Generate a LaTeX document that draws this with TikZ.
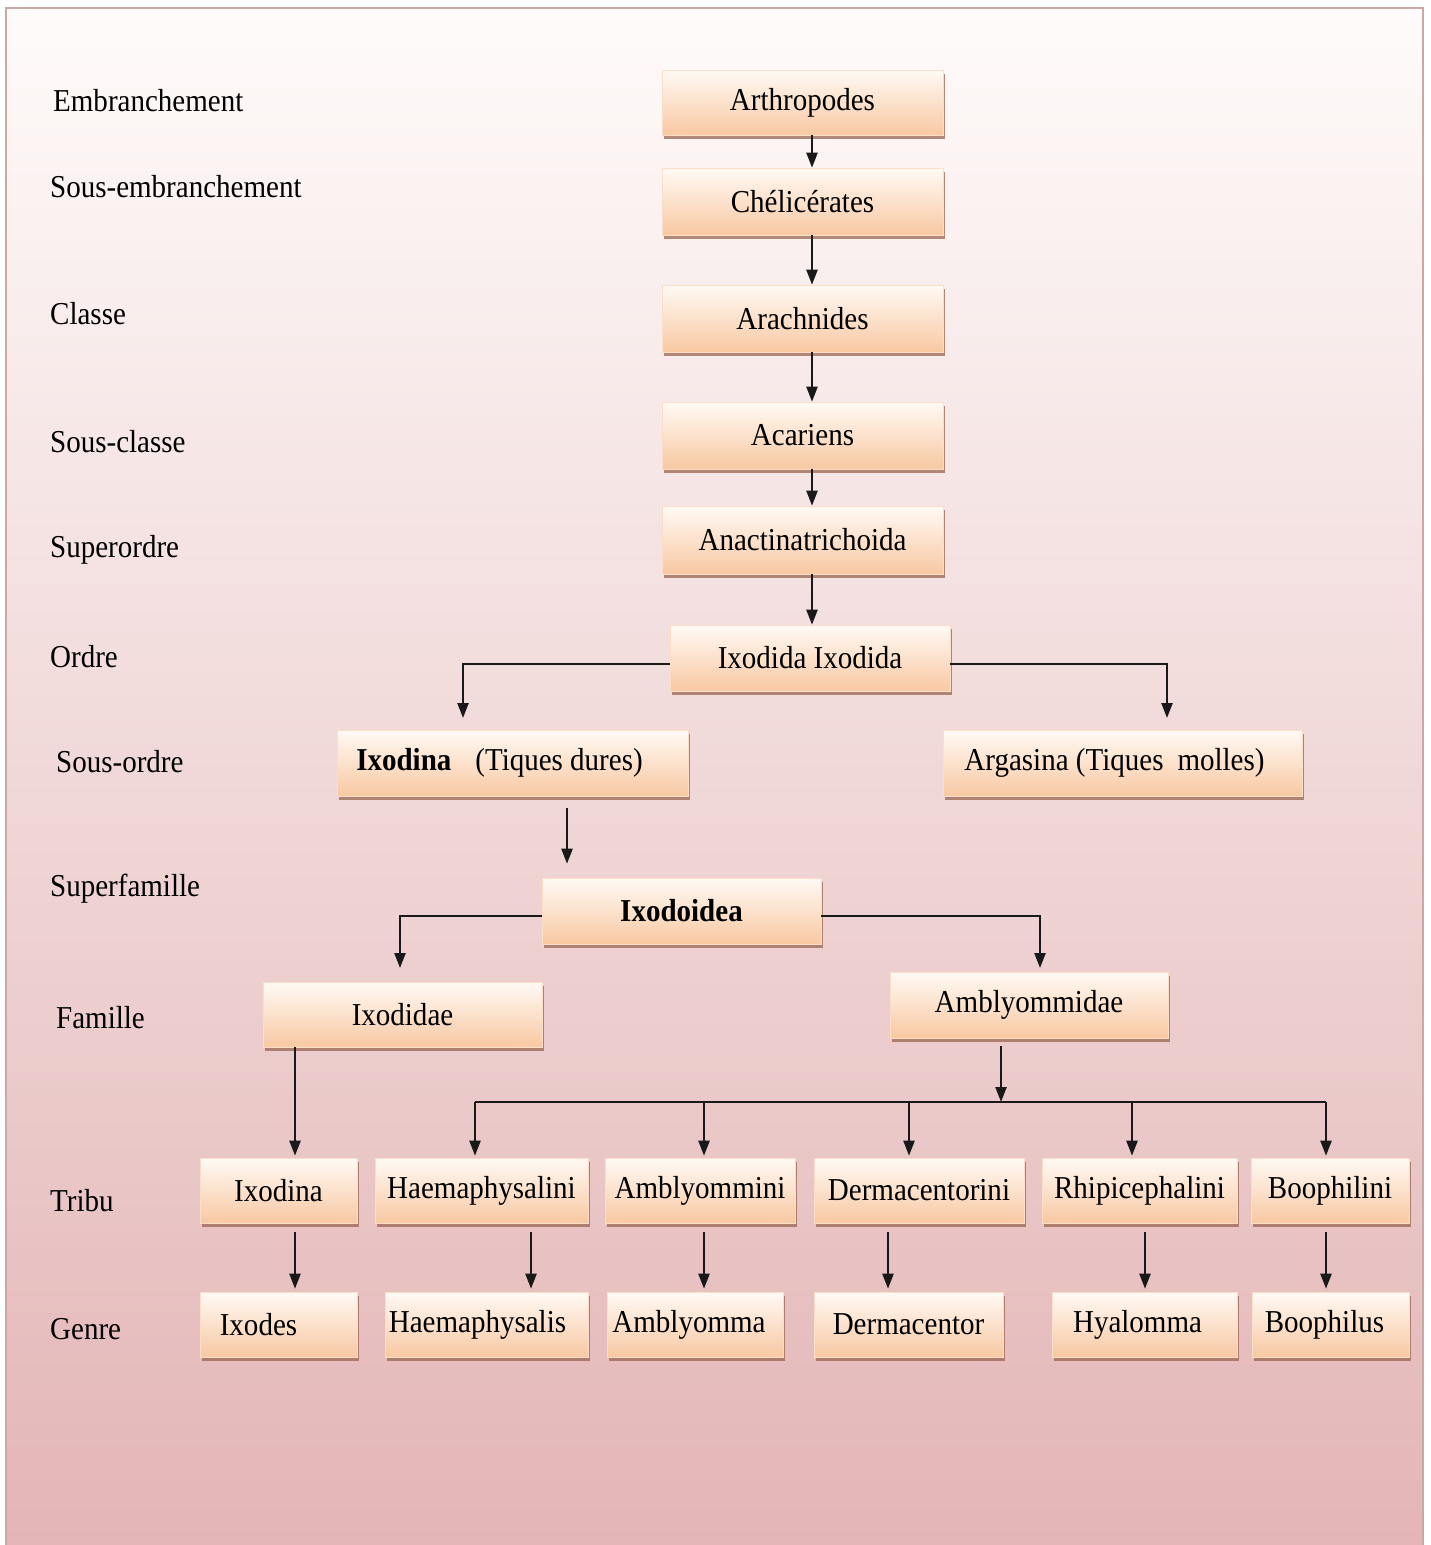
\documentclass[tikz,border=0pt]{standalone}
\usepackage{fontspec}
\setmainfont{Liberation Serif}[FakeStretch=0.91]
\usetikzlibrary{arrows.meta,shadows,calc}
\definecolor{bgtop}{HTML}{FEFBFA}
\definecolor{bgbot}{HTML}{E3B4B5}
\definecolor{frm}{HTML}{C9A9A6}
\definecolor{boxtop}{HTML}{FFFAF5}
\definecolor{boxbot}{HTML}{F8C8A2}
\definecolor{shd}{HTML}{9A6650}
\newcommand\mybox[6]{\node[box, minimum width=#4bp, minimum height=#5bp] (#1) at (#2,#3) {#6};}
\begin{document}
\begin{tikzpicture}[x=1bp,y=-1bp,
  font=\fontsize{32}{38}\selectfont,
  box/.style={rectangle, inner sep=0pt, top color=boxtop, bottom color=boxbot, draw=boxbot!60!white, line width=0.6bp,
    drop shadow={shadow xshift=2bp, shadow yshift=-4bp, fill=shd, opacity=0.75}},
  lab/.style={anchor=west, inner sep=0pt},
  arr/.style={-{Triangle[length=15bp,width=11bp]}, line width=2.3bp, draw=black!90},
  ln/.style={line width=2.3bp, draw=black!90}
]
\useasboundingbox (0,0) rectangle (1431,1545);
\fill[white] (0,0) rectangle (1431,1545);
\shade[top color=bgtop, bottom color=bgbot, draw=frm, line width=2bp] (6,8) rectangle (1423,1565);

% level labels
\node[lab] (l1) at (53,101) {Embranchement};
\node[lab] (l2) at (50,187) {Sous-embranchement};
\node[lab] (l3) at (50,314) {Classe};
\node[lab] (l4) at (50,442) {Sous-classe};
\node[lab] (l5) at (50,550) {Superordre};
\node[lab] (l6) at (50,657) {Ordre};
\node[lab] (l7) at (56,762) {Sous-ordre};
\node[lab] (l8) at (50,889) {Superfamille};
\node[lab] (l9) at (56,1018) {Famille};
\node[lab] (l10) at (50,1201) {Tribu};
\node[lab] (l11) at (50,1329) {Genre};

% boxes
\mybox{arth}{802.5}{102.5}{281}{65}{Arthropodes}
\mybox{chel}{802.5}{201.5}{281}{67}{Chélicérates}
\mybox{arach}{802.5}{318.5}{281}{67}{Arachnides}
\mybox{acar}{802.5}{435.5}{281}{67}{Acariens}
\mybox{anact}{802.5}{540}{281}{68}{Anactinatrichoida}
\mybox{ixodida}{810}{658}{280}{66}{Ixodida Ixodida}
\mybox{ixodina}{512.5}{763}{351}{66}{\hspace*{-26bp}\textbf{Ixodina}\hspace{24bp}(Tiques dures)}
\mybox{argasina}{1122.5}{763}{359}{66}{\hspace*{-16bp}Argasina (Tiques\hspace{14bp}molles)}
\mybox{ixodoidea}{681.5}{911}{279}{66}{\textbf{Ixodoidea}}
\mybox{ixodidae}{402.5}{1014.5}{279}{65}{Ixodidae}
\mybox{amblyommidae}{1029}{1005}{278}{66}{Amblyommidae}

\mybox{trIx}{278.5}{1190.5}{157}{65}{Ixodina}
\mybox{trHa}{481.5}{1190.5}{213}{65}{Haemaphysalini}
\mybox{trAm}{700}{1190.5}{190}{65}{Amblyommini}
\mybox{trDe}{919}{1190.5}{210}{65}{Dermacentorini}
\mybox{trRh}{1139.5}{1190.5}{195}{65}{Rhipicephalini}
\mybox{trBo}{1330}{1190.5}{158}{65}{Boophilini}

\mybox{gIx}{278.5}{1324.5}{157}{65}{\hspace*{-40bp}Ixodes}
\mybox{gHa}{486.5}{1324.5}{203}{65}{\hspace*{-18bp}Haemaphysalis}
\mybox{gAm}{695}{1324.5}{176}{65}{\hspace*{-12bp}Amblyomma}
\mybox{gDe}{908.5}{1324.5}{189}{65}{Dermacentor}
\mybox{gHy}{1144.5}{1324.5}{185}{65}{\hspace*{-14bp}Hyalomma}
\mybox{gBo}{1330.5}{1324.5}{157}{65}{\hspace*{-12bp}Boophilus}

% helper coordinates
\coordinate (ax) at (812,0);
\coordinate (t1) at (463,718);
\coordinate (t2) at (1167,718);
\coordinate (a1) at (567,0);
\coordinate (t3) at (400,968);
\coordinate (t4) at (1040,968);
\coordinate (x295) at (295,0);
\coordinate (busL) at (475,1102);
\coordinate (busM) at (1001,1102);
\coordinate (busR) at (1326,1102);
\coordinate (x704) at (704,0);
\coordinate (x909) at (909,0);
\coordinate (x1132) at (1132,0);
\coordinate (x531) at (531,0);
\coordinate (x888) at (888,0);
\coordinate (x1145) at (1145,0);

% connectors
\draw[arr] (arth.south -| ax) -- (chel.north -| ax);
\draw[arr] (chel.south -| ax) -- (arach.north -| ax);
\draw[arr] (arach.south -| ax) -- (acar.north -| ax);
\draw[arr] (acar.south -| ax) -- (anact.north -| ax);
\draw[arr] (anact.south -| ax) -- (ixodida.north -| ax);
\draw[arr] ([yshift=-6bp]ixodida.west) -| (t1);
\draw[arr] ([yshift=-6bp]ixodida.east) -| (t2);
\draw[arr, shorten <=12bp, shorten >=14bp] (ixodina.south -| a1) -- (ixodoidea.north -| a1);
\draw[arr] ([yshift=-5bp]ixodoidea.west) -| (t3);
\draw[arr] ([yshift=-5bp]ixodoidea.east) -| (t4);
\draw[arr] (ixodidae.south -| x295) -- ([yshift=2bp]trIx.north -| x295);
\draw[arr, shorten <=8bp] (amblyommidae.south -| busM) -- (busM);
\draw[ln] (busL) -- (busR);
\draw[arr] (busL) -- ([yshift=2bp]trHa.north -| busL);
\draw[arr] (busL -| x704) -- ([yshift=2bp]trAm.north -| x704);
\draw[arr] (busL -| x909) -- ([yshift=2bp]trDe.north -| x909);
\draw[arr] (busL -| x1132) -- ([yshift=2bp]trRh.north -| x1132);
\draw[arr] (busR) -- ([yshift=2bp]trBo.north -| busR);

\draw[arr, shorten <=9bp, shorten >=3bp] (trIx.south -| x295) -- (gIx.north -| x295);
\draw[arr, shorten <=9bp, shorten >=3bp] (trHa.south -| x531) -- (gHa.north -| x531);
\draw[arr, shorten <=9bp, shorten >=3bp] (trAm.south -| x704) -- (gAm.north -| x704);
\draw[arr, shorten <=9bp, shorten >=3bp] (trDe.south -| x888) -- (gDe.north -| x888);
\draw[arr, shorten <=9bp, shorten >=3bp] (trRh.south -| x1145) -- (gHy.north -| x1145);
\draw[arr, shorten <=9bp, shorten >=3bp] (trBo.south -| busR) -- (gBo.north -| busR);
\end{tikzpicture}
\end{document}
